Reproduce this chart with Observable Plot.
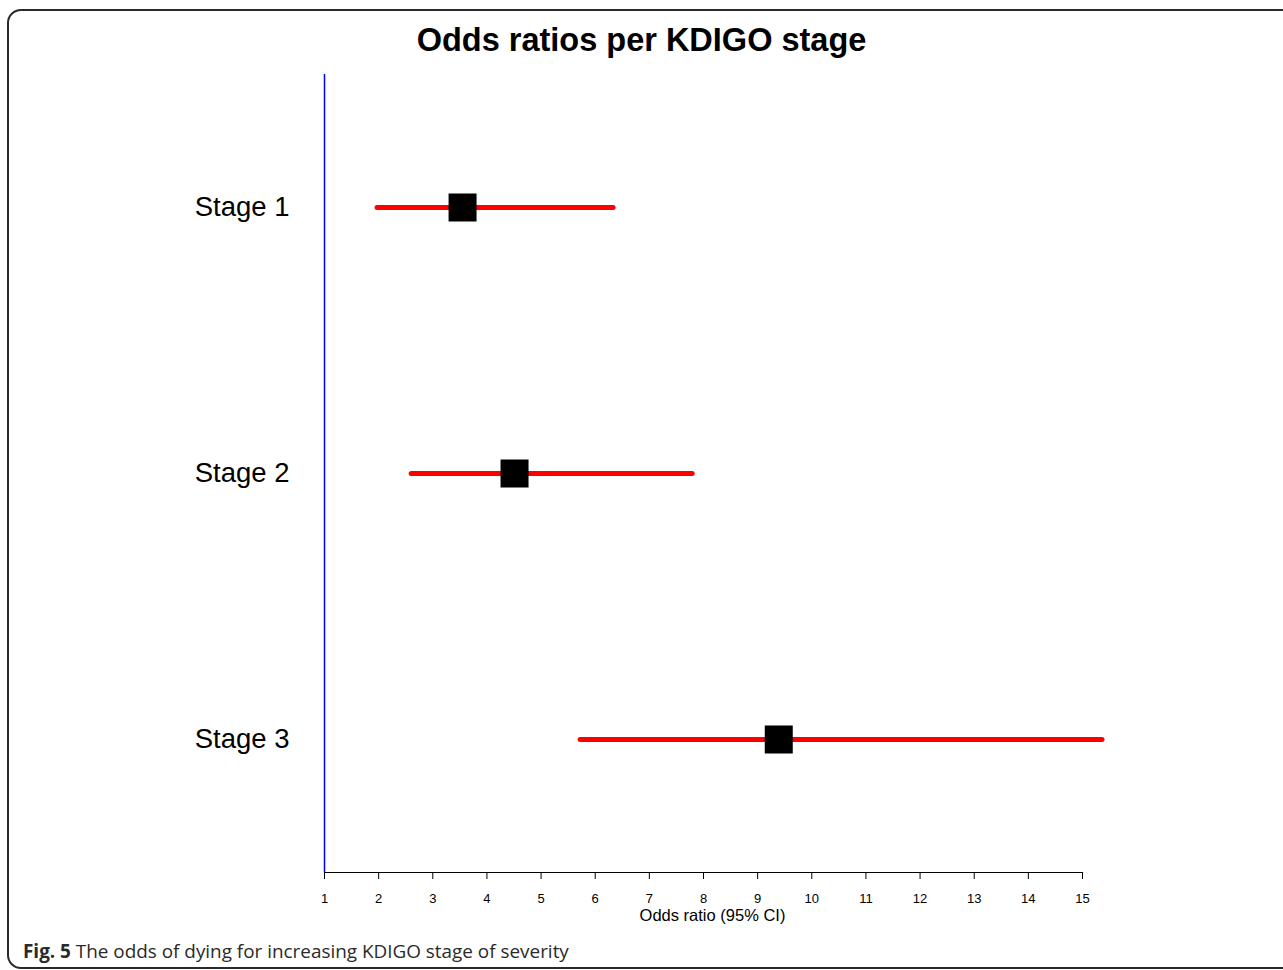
<!DOCTYPE html>
<html>
<head>
<meta charset="utf-8">
<script src="https://cdn.jsdelivr.net/npm/d3@7"></script>
<script src="https://cdn.jsdelivr.net/npm/@observablehq/plot@0.6"></script>
<style>
  html, body { margin: 0; padding: 0; background: #fff; }
  #wrap { position: relative; width: 1283px; height: 970px; overflow: hidden; }
  #frame { position: absolute; left: 7px; top: 9px; width: 1300px; height: 960px;
           border: 2px solid #2a2a2a; border-radius: 14px; box-sizing: border-box; }
  #title { position: absolute; left: 0; top: 22px; width: 1283px; text-align: center;
           font: bold 32.5px "Liberation Sans", Arial, sans-serif; color: #000; }
  #chart { position: absolute; left: 0; top: 0; }
  #caption { position: absolute; left: 23px; top: 938px;
             font: 18.9px "Open Sans", sans-serif; color: #2a2a2a; }
  #caption b { font-weight: 700; }
</style>
</head>
<body>
<div id="wrap">
  <div id="frame"></div>
  <div id="chart"></div>
  <div id="title">Odds ratios per KDIGO stage</div>
  <div id="caption"><b>Fig. 5</b> The odds of dying for increasing KDIGO stage of severity</div>
</div>
<script>
const stages = ["Stage 1", "Stage 2", "Stage 3"];
const oddsRatio = [3.55, 4.51, 9.39];
const ciLower = [1.98, 2.61, 5.73];
const ciUpper = [6.34, 7.80, 15.37];
const xTicks = [1, 2, 3, 4, 5, 6, 7, 8, 9, 10, 11, 12, 13, 14, 15];
const xLabel = "Odds ratio (95% CI)";

const data = stages.map((s, i) => ({stage: s, or: oddsRatio[i], lo: ciLower[i], hi: ciUpper[i]}));

const chart = Plot.plot({
  width: 1283,
  height: 970,
  marginLeft: 324,
  marginRight: 201,
  marginTop: 74,
  marginBottom: 98,
  style: {fontFamily: "'Liberation Sans', Arial, sans-serif", color: "#000", background: "transparent"},
  x: {domain: [1, 15], ticks: xTicks},
  y: {domain: stages, type: "point", padding: 0.5},
  marks: [
    Plot.ruleX([1], {stroke: "blue", strokeWidth: 1.5}),
    Plot.frame({anchor: "bottom", stroke: "#000", strokeWidth: 1.2}),
    Plot.axisX({ticks: xTicks, tickSize: 7, tickPadding: 14, fontSize: 13, tickFormat: d => String(d),
                label: null, stroke: "#000"}),
    Plot.text([xLabel], {frameAnchor: "bottom", lineAnchor: "middle", dy: 43, dx: 9, fontSize: 16.5, fill: "#000"}),
    Plot.axisY({tickSize: 0, tickPadding: 35, fontSize: 27.5, label: null}),
    Plot.ruleY(data, {y: "stage", x1: "lo", x2: "hi", stroke: "#ff0000", strokeWidth: 5, strokeLinecap: "round"}),
    Plot.dot(data, {x: "or", y: "stage", symbol: "square", r: 15.8, fill: "#000", stroke: "none"})
  ]
});
document.getElementById("chart").appendChild(chart);
</script>
</body>
</html>
